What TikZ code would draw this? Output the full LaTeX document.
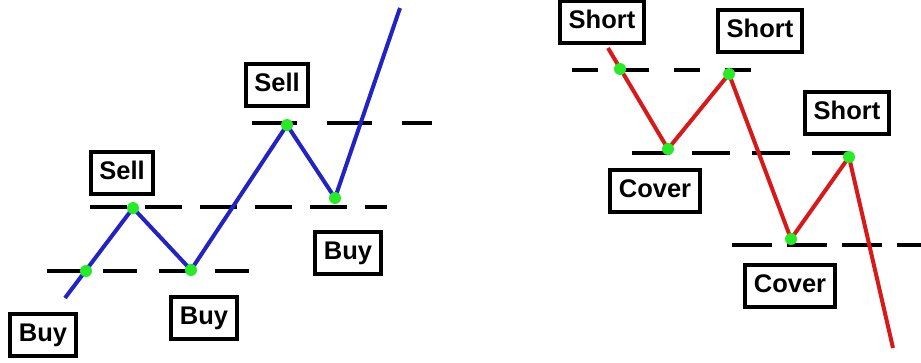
\documentclass[tikz,border=0pt]{standalone}
\usepackage{fontspec}
\setmainfont{Liberation Sans}
\definecolor{upblue}{RGB}{35,35,195}
\definecolor{downred}{RGB}{215,25,25}
\definecolor{dotgreen}{RGB}{40,235,40}
\tikzset{
  lbl/.style={draw=black, line width=4pt, fill=white, font=\fontsize{25.5}{25.5}\selectfont\bfseries,
    inner xsep=8.5pt, inner ysep=0pt, minimum height=42pt, text height=18.5pt, text depth=5pt},
  level/.style={draw=black, line width=4pt},
  pricebl/.style={draw=upblue, line width=4pt, line join=miter},
  pricerd/.style={draw=downred, line width=4pt, line join=miter},
  hit/.style={circle, fill=dotgreen, inner sep=0pt, minimum size=12pt}
}
\begin{document}
\begin{tikzpicture}[x=1pt,y=-1pt]
\useasboundingbox (0,0) rectangle (921,362);
% ---------- left panel: level lines ----------
\draw[level, dash pattern=on 34pt off 22pt] (47,271) -- (257,271);
\draw[level, dash pattern=on 37pt off 18pt] (90,207) -- (387,207);
\draw[level, dash pattern=on 45pt off 30pt] (252,123) -- (432,123);
% ---------- left panel: price path ----------
\coordinate (b0) at (65,298);
\coordinate (b1) at (133,208);
\coordinate (b2) at (191,270);
\coordinate (b3) at (287,125);
\coordinate (b4) at (335,198);
\coordinate (b5) at (400,8);
\draw[pricebl] (b0) -- (b1) -- (b2) -- (b3) -- (b4) -- (b5);
\node[hit] (g1) at (86,271) {};
\node[hit] (g2) at (b1) {};
\node[hit] (g3) at (b2) {};
\node[hit] (g4) at (b3) {};
\node[hit] (g5) at (b4) {};
% ---------- left panel: labels ----------
\node[lbl] (sell1) at (122,173) {Sell};
\node[lbl] (sell2) at (277,85) {Sell};
\node[lbl] (buy1) at (43,335) {Buy};
\node[lbl] (buy2) at (204,318) {Buy};
\node[lbl] (buy3) at (348,253) {Buy};
% ---------- right panel: level lines ----------
\draw[level, dash pattern=on 26pt off 25pt] (572,70) -- (772,70);
\draw[level, dash pattern=on 38pt off 22pt] (632,153) -- (865,153);
\draw[level, dash pattern=on 40pt off 15pt] (732,245) -- (921,245);
% ---------- right panel: price path ----------
\coordinate (r0) at (608,48);
\coordinate (r1) at (668,149);
\coordinate (r2) at (729,74);
\coordinate (r3) at (791,239);
\coordinate (r4) at (849,157);
\coordinate (r5) at (893,348);
\draw[pricerd] (r0) -- (r1) -- (r2) -- (r3) -- (r4) -- (r5);
\node[hit] (h1) at (620,69) {};
\node[hit] (h2) at (r1) {};
\node[hit] (h3) at (r2) {};
\node[hit] (h4) at (r3) {};
\node[hit] (h5) at (r4) {};
% ---------- right panel: labels ----------
\node[lbl] (short1) at (602,22) {Short};
\node[lbl] (short2) at (760,31) {Short};
\node[lbl] (short3) at (847,113) {Short};
\node[lbl] (cover1) at (655,191) {Cover};
\node[lbl] (cover2) at (790,286) {Cover};
\end{tikzpicture}
\end{document}
